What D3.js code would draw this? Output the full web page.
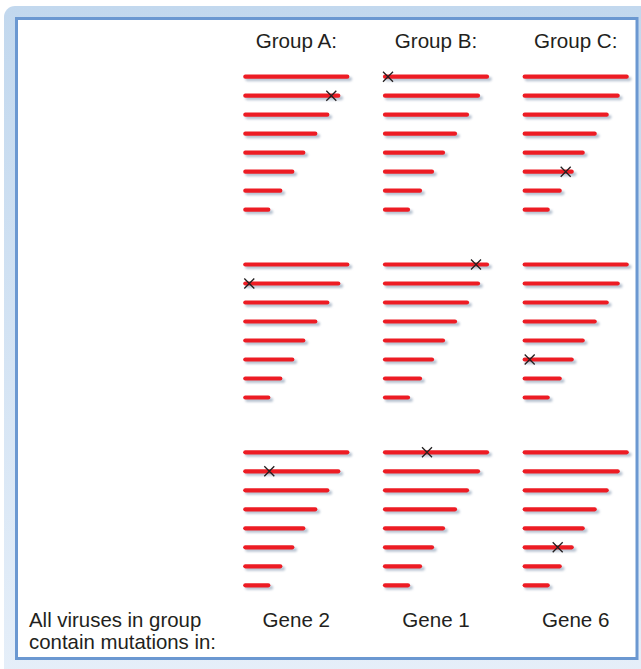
<!DOCTYPE html>
<html>
<head>
<meta charset="utf-8">
<script src="https://cdn.jsdelivr.net/npm/d3@7"></script>
<style>
  html, body { margin: 0; padding: 0; background: #fff; }
  svg { display: block; font-family: "Liberation Sans", Arial, sans-serif; }
</style>
</head>
<body>
<div id="chart"></div>
<script>
// Groups of viruses, one column each
const groups = ["Group A:", "Group B:", "Group C:"]
// Three viruses per group, drawn as stacked panels
const viruses = [1, 2, 3]
// Eight gene segments per virus, longest first
const genes = [1, 2, 3, 4, 5, 6, 7, 8]
const geneLengths = [106, 97, 86, 74, 62, 51, 39, 27]
// Gene that carries the mutation in every virus of the group
const mutatedGene = [2, 1, 6]
// Position of the mutation along that gene, per group, per virus
const mutationPos = [
  [88, 6, 26],
  [5, 93, 44],
  [43, 7, 35]
]
const geneLabels = ["Gene 2", "Gene 1", "Gene 6"]

const width = 641
const height = 669

const svg = d3.select("#chart").append("svg")
  .attr("width", width)
  .attr("height", height)

const defs = svg.append("defs")

// Light frame gradient, paler toward the bottom
const grad = defs.append("linearGradient")
  .attr("id", "frameGrad")
  .attr("x1", 0).attr("y1", 0).attr("x2", 0).attr("y2", 1)
grad.append("stop").attr("offset", "0%").attr("stop-color", "#c2d8ee")
grad.append("stop").attr("offset", "100%").attr("stop-color", "#e6eff9")

// Lines have a zero-height bbox, so the filter region is in user units
const blur = defs.append("filter")
  .attr("id", "shadowBlur")
  .attr("filterUnits", "userSpaceOnUse")
  .attr("x", -20).attr("y", -20)
  .attr("width", 200).attr("height", 200)
blur.append("feGaussianBlur").attr("stdDeviation", 0.8)

// Outer rounded band and inner box
svg.append("rect")
  .attr("x", 4).attr("y", 6)
  .attr("width", 660).attr("height", 680)
  .attr("rx", 11)
  .attr("fill", "url(#frameGrad)")

svg.append("rect")
  .attr("x", 16.5).attr("y", 18.5)
  .attr("width", 620.5).attr("height", 640)
  .attr("fill", "#fff")
  .attr("stroke", "#6b98d1")
  .attr("stroke-width", 3)

// Scales
const col = d3.scalePoint().domain(groups).range([243.3, 522.7])
const panel = d3.scalePoint().domain(viruses).range([76.7, 452.3])
const row = d3.scalePoint().domain(genes).range([0, 133])
const len = d3.scaleLinear().domain([0, 106]).range([0, 106])

const cap = 2
const barW = 4.2

// Group headings
svg.append("g")
  .selectAll("text")
  .data(groups)
  .join("text")
  .attr("x", d => col(d) + len(geneLengths[0]) / 2)
  .attr("y", 48.3)
  .attr("text-anchor", "middle")
  .attr("font-size", 20.6)
  .attr("fill", "#231f20")
  .text(d => d)

// One cell per group x virus
const cells = []
groups.forEach((g, gi) => {
  viruses.forEach((v, vi) => {
    cells.push({ group: g, gi, virus: v, vi })
  })
})

const cell = svg.append("g")
  .selectAll("g")
  .data(cells)
  .join("g")
  .attr("transform", d => `translate(${col(d.group)},${panel(d.virus)})`)

const segs = genes.map((g, i) => ({ gene: g, length: geneLengths[i] }))

// Shadows
cell.append("g")
  .attr("filter", "url(#shadowBlur)")
  .selectAll("line")
  .data(segs)
  .join("line")
  .attr("x1", len(0) + cap + 2)
  .attr("x2", d => len(d.length) - cap + 2.8)
  .attr("y1", d => row(d.gene) + 2.4)
  .attr("y2", d => row(d.gene) + 2.4)
  .attr("stroke", "#b9c4d2")
  .attr("stroke-width", barW)
  .attr("stroke-linecap", "round")

// Gene bars
cell.selectAll("line.gene")
  .data(segs)
  .join("line")
  .attr("class", "gene")
  .attr("x1", len(0) + cap)
  .attr("x2", d => len(d.length) - cap)
  .attr("y1", d => row(d.gene))
  .attr("y2", d => row(d.gene))
  .attr("stroke", "#ed1c24")
  .attr("stroke-width", barW)
  .attr("stroke-linecap", "round")

// Mutation marks
const s = 5
cell.append("path")
  .attr("transform", d => {
    const x = len(mutationPos[d.gi][d.vi])
    const y = row(mutatedGene[d.gi])
    return `translate(${x},${y})`
  })
  .attr("d", `M${-s},${-s}L${s},${s}M${-s},${s}L${s},${-s}`)
  .attr("stroke", "#231f20")
  .attr("stroke-width", 1.3)
  .attr("fill", "none")

// Bottom labels
const footer = svg.append("text")
  .attr("x", 29)
  .attr("y", 627.3)
  .attr("font-size", 20.4)
  .attr("fill", "#231f20")
footer.append("tspan").attr("x", 29).text("All viruses in group")
footer.append("tspan").attr("x", 29).attr("dy", 22).text("contain mutations in:")

svg.append("g")
  .selectAll("text")
  .data(geneLabels)
  .join("text")
  .attr("x", (d, i) => col(groups[i]) + len(geneLengths[0]) / 2)
  .attr("y", 627.3)
  .attr("text-anchor", "middle")
  .attr("font-size", 20.6)
  .attr("fill", "#231f20")
  .text(d => d)
</script>
</body>
</html>
